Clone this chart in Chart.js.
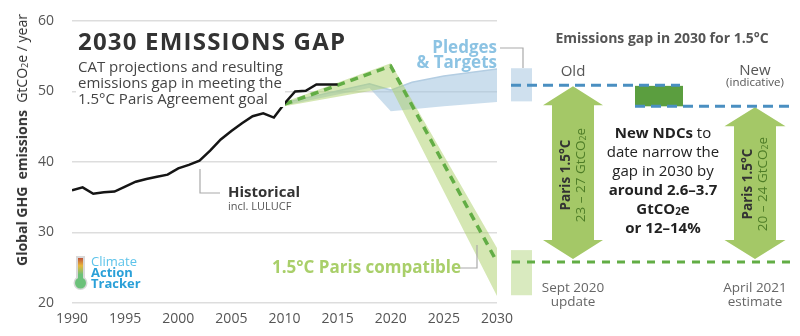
<!DOCTYPE html>
<html>
<head>
<meta charset="utf-8">
<script src="https://cdn.jsdelivr.net/npm/chart.js@4.4.1/dist/chart.umd.min.js"></script>
<style>
  body { margin: 0; background: #fff; font-family: "Open Sans", sans-serif; }
  #wrap { position: relative; width: 800px; height: 336px; overflow: hidden; }
  canvas { position: absolute; left: 0; top: 0; }
  .t { position: absolute; white-space: nowrap; line-height: 1; }
  .c { transform: translate(-50%, -50%); text-align: center; }
  sub { font-size: 65%; vertical-align: -0.15em; line-height: 0; }
</style>
</head>
<body>
<div id="wrap">
  <canvas id="chart" width="800" height="336"></canvas>

  <!-- titre et sous-titre -->
  <div class="t" style="left:76px;top:29px;font-size:24px;letter-spacing:1.2px;font-weight:700;color:#333;background:#fff;padding:0 2px;">2030 EMISSIONS GAP</div>
  <div class="t" style="left:76px;top:58px;font-size:15px;line-height:16px;color:#444;background:#fff;padding:0 2px 1px 2px;">CAT projections and resulting<br>emissions gap in meeting the<br>1.5°C Paris Agreement goal</div>

  <!-- titre axe Y -->
  <div class="t c" style="left:22px;top:140px;transform:translate(-50%,-50%) rotate(-90deg);font-size:14px;color:#333;">
    <b>Global GHG&nbsp; emissions</b>&nbsp; GtCO<sub>2</sub>e / year</div>

  <!-- étiquettes dans le graphique -->
  <div class="t" style="left:228px;top:184px;font-size:15px;font-weight:700;color:#333;">Historical</div>
  <div class="t" style="left:228px;top:200px;font-size:11px;color:#555;">incl. LULUCF</div>
  <div class="t" style="left:272px;top:258px;font-size:17px;font-weight:700;color:#a9cf6a;">1.5°C Paris compatible</div>
  <div class="t" style="right:303px;top:39px;font-size:17px;font-weight:700;color:#8cc3e3;text-align:right;line-height:15px;">Pledges<br>&amp; Targets</div>

  <!-- logo CAT -->
  <div class="t" style="left:91px;top:256px;font-size:13px;line-height:11px;color:#2aa0d8;">
    <span style="color:#5cc3ea;">Climate</span><br><b>Action</b><br><b>Tracker</b></div>

  <!-- panneau de droite -->
  <div class="t c" style="left:662px;top:38px;font-size:14px;font-weight:700;color:#555;">Emissions gap in 2030 for 1.5°C</div>
  <div class="t c" style="left:573px;top:70px;font-size:15px;color:#555;">Old</div>
  <div class="t c" style="left:755px;top:69px;font-size:15px;color:#555;">New</div>
  <div class="t c" style="left:755px;top:82px;font-size:11.5px;color:#555;">(indicative)</div>

  <div class="t c" style="left:663px;top:180px;font-size:15px;line-height:19px;color:#222;">
    <b>New NDCs</b> to<br>date narrow the<br>gap in 2030 by<br><b>around 2.6–3.7</b><br><b>GtCO<sub>2</sub>e</b><br><b>or 12–14%</b></div>

  <div class="t c" style="left:573px;top:175px;transform:translate(-50%,-50%) rotate(-90deg);font-size:13.5px;line-height:15px;">
    <b style="color:#333;">Paris 1.5°C</b><br><span style="color:#4e7d27;">23 – 27 GtCO<sub>2</sub>e</span></div>
  <div class="t c" style="left:755px;top:184px;transform:translate(-50%,-50%) rotate(-90deg);font-size:13.5px;line-height:15px;">
    <b style="color:#333;">Paris 1.5°C</b><br><span style="color:#4e7d27;">20 – 24 GtCO<sub>2</sub>e</span></div>

  <div class="t c" style="left:573px;top:294px;font-size:13.5px;line-height:14px;color:#666;">Sept 2020<br>update</div>
  <div class="t c" style="left:755px;top:294px;font-size:13.5px;line-height:14px;color:#666;">April 2021<br>estimate</div>
</div>

<script>
// Données historiques (GtCO2e / an)
const histYears = [1990, 1991, 1992, 1993, 1994, 1995, 1996, 1997, 1998, 1999, 2000, 2001, 2002,
  2003, 2004, 2005, 2006, 2007, 2008, 2009, 2010, 2011, 2012, 2013, 2014, 2015];
const histValues = [36.0, 36.4, 35.5, 35.7, 35.8, 36.5, 37.2, 37.6, 37.9, 38.2, 39.1, 39.6, 40.2,
  41.6, 43.2, 44.4, 45.5, 46.5, 46.9, 46.3, 48.3, 50.0, 50.1, 51.0, 51.0, 51.0];

// Trajectoire 1.5°C (ligne pointillée + bande)
const parisYears = [2010, 2020, 2030];
const parisValues = [48.2, 53.6, 25.8];
const parisLow = [47.9, 50.6, 21.0];
const parisHigh = [48.5, 54.0, 27.8];

// Engagements et objectifs (bande bleue)
const pledgeYears = [2010, 2018, 2020, 2022, 2025, 2030];
const pledgeLow = [48.0, 50.5, 47.2, 47.5, 47.9, 48.5];
const pledgeHigh = [48.4, 51.1, 50.2, 51.3, 52.2, 53.2];

// Écart en 2030 (panneau de droite)
const pledge2030 = [48.6, 53.3];
const paris2030 = [21.1, 27.5];
const gapOld = 50.9;
const gapNew = 47.9;
const parisLevel = 25.8;
const ndcCut = [47.9, 50.8];

// Graduations
const xTicks = [1990, 1995, 2000, 2005, 2010, 2015, 2020, 2025, 2030];
const yTicks = [20, 30, 40, 50, 60];

function pts(xs, ys) {
  return xs.map(function(x, i) { return { x: x, y: ys[i] }; });
}

function dashLine(ctx, x1, x2, y, color, dash) {
  ctx.save();
  ctx.strokeStyle = color;
  ctx.lineWidth = 3;
  ctx.setLineDash(dash);
  ctx.beginPath();
  ctx.moveTo(x1, y);
  ctx.lineTo(x2, y);
  ctx.stroke();
  ctx.restore();
}

function arrow(ctx, cx, top, bottom, headW, shaftW, headH) {
  ctx.save();
  ctx.fillStyle = '#a4c867';
  ctx.beginPath();
  ctx.moveTo(cx, top);
  ctx.lineTo(cx + headW / 2, top + headH);
  ctx.lineTo(cx + shaftW / 2, top + headH);
  ctx.lineTo(cx + shaftW / 2, bottom - headH);
  ctx.lineTo(cx + headW / 2, bottom - headH);
  ctx.lineTo(cx, bottom);
  ctx.lineTo(cx - headW / 2, bottom - headH);
  ctx.lineTo(cx - shaftW / 2, bottom - headH);
  ctx.lineTo(cx - shaftW / 2, top + headH);
  ctx.lineTo(cx - headW / 2, top + headH);
  ctx.closePath();
  ctx.fill();
  ctx.restore();
}

function connector(ctx, points) {
  ctx.save();
  ctx.strokeStyle = '#aaaaaa';
  ctx.lineWidth = 1.2;
  ctx.beginPath();
  points.forEach(function(p, i) { i ? ctx.lineTo(p[0], p[1]) : ctx.moveTo(p[0], p[1]); });
  ctx.stroke();
  ctx.restore();
}

// Panneau de droite, connecteurs et logo
const panelPlugin = {
  id: 'panel',
  afterDraw: function(chart) {
    const ctx = chart.ctx;
    const y = chart.scales.y;

    ctx.fillStyle = '#cfe0ee';
    ctx.fillRect(511, y.getPixelForValue(pledge2030[1]), 21,
      y.getPixelForValue(pledge2030[0]) - y.getPixelForValue(pledge2030[1]));
    ctx.fillStyle = '#d9eabf';
    ctx.fillRect(511, y.getPixelForValue(paris2030[1]), 21,
      y.getPixelForValue(paris2030[0]) - y.getPixelForValue(paris2030[1]));
    ctx.fillStyle = '#5b9e3f';
    ctx.fillRect(635, y.getPixelForValue(ndcCut[1]), 48,
      y.getPixelForValue(ndcCut[0]) - y.getPixelForValue(ndcCut[1]));

    const yOld = y.getPixelForValue(gapOld);
    const yNew = y.getPixelForValue(gapNew);
    const yParis = y.getPixelForValue(parisLevel);

    arrow(ctx, 573, yOld + 1, yParis - 3, 60, 42, 19);
    arrow(ctx, 755, yNew + 1, yParis - 3, 61, 42, 19);

    dashLine(ctx, 511, 680, yOld, '#4a8fc1', [10, 6]);
    dashLine(ctx, 635, 792, yNew, '#4a8fc1', [10, 6]);
    dashLine(ctx, 512, 792, yParis, '#62ad45', [8, 7]);

    connector(ctx, [[200, 169], [200, 193], [220, 193]]);
    connector(ctx, [[455, 268], [477, 268], [477, 245]]);
    connector(ctx, [[500, 48], [523, 48], [523, 68]]);

    // thermomètre du logo
    const g = ctx.createLinearGradient(0, 257, 0, 282);
    g.addColorStop(0, '#b8463c');
    g.addColorStop(0.35, '#e8b73a');
    g.addColorStop(0.7, '#6cc17a');
    g.addColorStop(1, '#6cc17a');
    ctx.save();
    ctx.fillStyle = '#d8d8d8';
    ctx.beginPath();
    ctx.arc(80.5, 283, 7, 0, Math.PI * 2);
    ctx.fill();
    ctx.fillRect(76, 256, 9, 26);
    ctx.fillStyle = g;
    ctx.fillRect(78, 258, 5, 24);
    ctx.fillStyle = '#6cc17a';
    ctx.beginPath();
    ctx.arc(80.5, 283, 5.5, 0, Math.PI * 2);
    ctx.fill();
    ctx.restore();
  }
};

const ctx = document.getElementById('chart').getContext('2d');
const emissionsChart = new Chart(ctx, {
  type: 'line',
  data: {
    datasets: [
      { data: pts(pledgeYears, pledgeLow), borderWidth: 0, pointRadius: 0, order: 5 },
      { data: pts(pledgeYears, pledgeHigh), borderColor: '#b3cde2', borderWidth: 1.5, pointRadius: 0,
        fill: '-1', backgroundColor: 'rgba(160, 194, 222, 0.55)', order: 4 },
      { data: pts(parisYears, parisLow), borderWidth: 0, pointRadius: 0, order: 3 },
      { data: pts(parisYears, parisHigh), borderWidth: 0, pointRadius: 0,
        fill: '-1', backgroundColor: 'rgba(172, 208, 104, 0.5)', order: 2 },
      { data: pts(parisYears, parisValues), borderColor: '#62ad45', borderWidth: 3.5,
        borderDash: [8, 6], pointRadius: 0, fill: false, order: 1 },
      { data: pts(histYears, histValues), borderColor: '#151515', borderWidth: 2.5,
        pointRadius: 0, fill: false, order: 0 }
    ]
  },
  options: {
    responsive: false,
    animation: false,
    layout: { padding: { top: 21, right: 303, bottom: 0, left: 0 } },
    plugins: { legend: { display: false }, tooltip: { enabled: false } },
    scales: {
      x: {
        type: 'linear', min: 1990, max: 2030,
        afterBuildTicks: function(s) { s.ticks = xTicks.map(function(v) { return { value: v }; }); },
        ticks: { color: '#555', font: { size: 14, family: 'Open Sans' }, padding: 8,
          maxRotation: 0, callback: function(v) { return String(v); } },
        grid: { display: false, drawTicks: false },
        border: { display: false },
        afterFit: function(s) { s.height = 33; s.paddingLeft = 0; s.paddingRight = 0; }
      },
      y: {
        min: 20, max: 60,
        afterBuildTicks: function(s) { s.ticks = yTicks.map(function(v) { return { value: v }; }); },
        ticks: { color: '#555', font: { size: 14, family: 'Open Sans' }, padding: 18 },
        grid: { color: '#dddddd', lineWidth: 1.5, drawTicks: false },
        border: { display: false },
        afterFit: function(s) { s.width = 72; s.paddingTop = 0; s.paddingBottom = 0; }
      }
    }
  },
  plugins: [panelPlugin]
});
</script>
</body>
</html>
